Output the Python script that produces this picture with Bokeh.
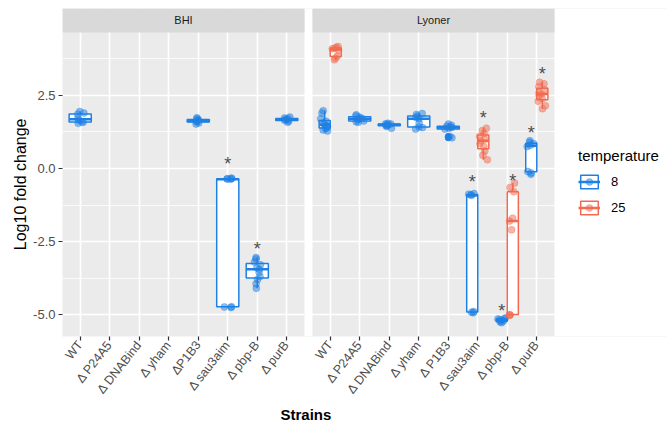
import math
import numpy as np
from bokeh.plotting import figure
from bokeh.models import (ColumnDataSource, FixedTicker, Range1d, Legend, LegendItem, Title)
from bokeh.transform import jitter
from bokeh.core.properties import value
from bokeh.embed import file_html
from bokeh.resources import INLINE

# ---------------- data ----------------
media = ["BHI", "Lyoner"]
strains = ["WT", "P24A5", "DNABind", "yham", "P1B3", "sau3aim", "pbp-B", "purB"]
bhi_tick_labels = ["WT", "Δ P24A5", "Δ DNABind", "Δ yham", "ΔP1B3", "Δ sau3aim", "Δ pbp-B", "Δ purB"]
lyoner_tick_labels = ["WT", "Δ P24A5", "Δ DNABind", "Δ yham", "Δ P1B3", "Δ sau3aim", "Δ pbp-B", "Δ purB"]
temperatures = ["8", "25"]
y_ticks = [-5.0, -2.5, 0.0, 2.5]
y_tick_labels = ["-5.0", "-2.5", "0.0", "2.5"]
y_minor = [-3.75, -1.25, 1.25, 3.75]

# BHI (8 °C only)
bhi_wt_8 = [1.55, 1.58, 1.60, 1.65, 1.72, 1.86, 1.90, 1.95]
bhi_p1b3_8 = [1.52, 1.56, 1.60, 1.62, 1.64, 1.67, 1.70, 1.74]
bhi_sau3aim_8 = [-4.76, -4.74, -4.73, -0.37, -0.36, -0.35, -0.34, -0.33]
bhi_pbpb_8 = [-4.10, -3.95, -3.80, -3.70, -3.55, -3.45, -3.40, -3.30, -3.20, -3.10, -3.05]
bhi_purb_8 = [1.58, 1.62, 1.65, 1.67, 1.69, 1.71, 1.73, 1.76]

# Lyoner
ly_wt_8 = [1.28, 1.32, 1.36, 1.40, 1.44, 1.48, 1.52, 1.56, 1.62, 1.70, 1.90, 1.98]
ly_wt_25 = [3.72, 3.78, 3.85, 4.05, 4.10, 4.12, 4.15, 4.18]
ly_p24a5_8 = [1.58, 1.60, 1.63, 1.68, 1.72, 1.76, 1.80, 1.84]
ly_dnabind_8 = [1.38, 1.44, 1.47, 1.49, 1.50, 1.52, 1.53, 1.55]
ly_yham_8 = [1.35, 1.40, 1.42, 1.55, 1.70, 1.75, 1.80, 1.85, 1.88]
ly_p1b3_8 = [1.05, 1.10, 1.35, 1.38, 1.40, 1.42, 1.45, 1.48, 1.52]
ly_sau3aim_8 = [-4.94, -4.92, -4.90, -0.92, -0.90, -0.88, -0.86]
ly_sau3aim_25 = [0.30, 0.45, 0.60, 0.75, 0.85, 0.95, 1.00, 1.10, 1.20, 1.30, 1.38]
ly_pbpb_8 = [-5.28, -5.25, -5.22, -5.20, -5.18, -5.15, -5.15, -5.12]
ly_pbpb_25 = [-5.03, -5.02, -5.00, -2.10, -1.80, -1.70, -0.80, -0.65, -0.50]
ly_purb_8 = [-0.20, -0.15, -0.10, 0.75, 0.80, 0.85, 0.90, 0.95]
ly_purb_25 = [2.05, 2.15, 2.30, 2.40, 2.50, 2.55, 2.60, 2.70, 2.80, 2.90, 2.95]

groups = [
    ("BHI", "WT", "8", bhi_wt_8),
    ("BHI", "P1B3", "8", bhi_p1b3_8),
    ("BHI", "sau3aim", "8", bhi_sau3aim_8),
    ("BHI", "pbp-B", "8", bhi_pbpb_8),
    ("BHI", "purB", "8", bhi_purb_8),
    ("Lyoner", "WT", "8", ly_wt_8),
    ("Lyoner", "WT", "25", ly_wt_25),
    ("Lyoner", "P24A5", "8", ly_p24a5_8),
    ("Lyoner", "DNABind", "8", ly_dnabind_8),
    ("Lyoner", "yham", "8", ly_yham_8),
    ("Lyoner", "P1B3", "8", ly_p1b3_8),
    ("Lyoner", "sau3aim", "8", ly_sau3aim_8),
    ("Lyoner", "sau3aim", "25", ly_sau3aim_25),
    ("Lyoner", "pbp-B", "8", ly_pbpb_8),
    ("Lyoner", "pbp-B", "25", ly_pbpb_25),
    ("Lyoner", "purB", "8", ly_purb_8),
    ("Lyoner", "purB", "25", ly_purb_25),
]

# significance asterisks (medium, strain, temperature, y)
star_medium = ["BHI", "BHI", "Lyoner", "Lyoner", "Lyoner", "Lyoner", "Lyoner", "Lyoner"]
star_strain = ["sau3aim", "pbp-B", "sau3aim", "sau3aim", "pbp-B", "pbp-B", "purB", "purB"]
star_temp = ["8", "8", "8", "25", "8", "25", "8", "25"]
star_y = [0.31, -2.57, -0.30, 1.90, -4.70, -0.24, 1.37, 3.42]

# ---------------- style ----------------
COLORS = {"8": "#1F80E3", "25": "#F26B50"}
PANEL_BG = "#EBEBEB"
STRIP_BG = "#D9D9D9"
FONT = "Liberation Sans"

FIG_W, FIG_H = 666, 422
LEFT, TOP, BOTTOM = 62, 8, 86
FRAME_W = FIG_W - LEFT          # frame runs to the right edge; legend sits inside it
PANELS_W = 492                  # width of the two facets incl. gap
PANEL_LO, PANEL_HI = 0.4, 8.6
GAP_PX = 8
scale = (PANELS_W - GAP_PX) / (2 * (PANEL_HI - PANEL_LO))
OFFSET = round(PANEL_HI - PANEL_LO + GAP_PX / scale, 4)
offsets = {"BHI": 0.0, "Lyoner": OFFSET}
X_END = PANEL_LO + FRAME_W / scale

Y_BOTTOM = -5.753
PANEL_TOP = 4.658
Y_TOP = 5.479

def xpos(medium, strain):
    return offsets[medium] + strains.index(strain) + 1

present = {}
for m, s, t, v in groups:
    present.setdefault((m, s), []).append(t)

def dodge(medium, strain, temp):
    temps = present[(medium, strain)]
    if len(temps) == 1:
        return 0.0, 0.75
    return (-0.1875 if temp == "8" else 0.1875), 0.375

# ---------------- build tables (one per temperature) ----------------
BOX_KEYS = ["x", "q1", "q2", "q3", "lo", "hi", "x0", "x1"]
box = {t: {k: [] for k in BOX_KEYS} for t in temperatures}
pts = {t: {"x": [], "y": []} for t in temperatures}
outl = {t: {"x": [], "y": []} for t in temperatures}
for m, s, t, v in groups:
    arr = np.array(v, dtype=float)
    q1, q2, q3 = np.percentile(arr, [25, 50, 75])
    iqr = q3 - q1
    inside = arr[(arr >= q1 - 1.5 * iqr) & (arr <= q3 + 1.5 * iqr)]
    lo, hi = inside.min(), inside.max()
    off, w = dodge(m, s, t)
    x = xpos(m, s) + off
    for k, val in zip(BOX_KEYS, [x, q1, q2, q3, lo, hi, x - w / 2, x + w / 2]):
        box[t][k].append(val)
    for val in arr:
        if val < q1 - 1.5 * iqr or val > q3 + 1.5 * iqr:
            outl[t]["x"].append(x); outl[t]["y"].append(val)
        pts[t]["x"].append(x); pts[t]["y"].append(val)

p = figure(width=FIG_W, height=FIG_H, output_backend="svg", toolbar_location=None,
           x_range=Range1d(PANEL_LO, X_END), y_range=Range1d(Y_BOTTOM, Y_TOP),
           min_border_left=LEFT, min_border_right=0, min_border_top=TOP,
           min_border_bottom=BOTTOM,
           background_fill_color=PANEL_BG, border_fill_color="white", outline_line_color=None)

# grid
tick_positions = [xpos(m, s) for m in media for s in strains]
p.xaxis.ticker = FixedTicker(ticks=tick_positions)
p.xgrid.ticker = FixedTicker(ticks=tick_positions)
p.yaxis.ticker = FixedTicker(ticks=y_ticks, minor_ticks=y_minor)
p.ygrid.ticker = FixedTicker(ticks=y_ticks, minor_ticks=y_minor)
for g in (p.xgrid, p.ygrid):
    g.grid_line_color = "white"
    g.grid_line_width = 1.6
p.ygrid.minor_grid_line_color = "white"
p.ygrid.minor_grid_line_width = 0.8

# axes
labels = {}
for m, lbls in zip(media, [bhi_tick_labels, lyoner_tick_labels]):
    for s, l in zip(strains, lbls):
        labels[xpos(m, s)] = l
p.xaxis.major_label_overrides = labels
p.yaxis.major_label_overrides = {yt: yl for yt, yl in zip(y_ticks, y_tick_labels)}
for ax in (p.xaxis[0], p.yaxis[0]):
    ax.axis_line_color = None
    ax.major_tick_line_color = "#333333"
    ax.major_tick_line_width = 1.2
    ax.major_tick_out = 4
    ax.major_tick_in = 0
    ax.minor_tick_line_color = None
    ax.major_label_text_color = "#4D4D4D"
    ax.major_label_text_font = FONT
    ax.major_label_text_font_size = "13px"
    ax.major_label_standoff = 3
p.xaxis.major_label_orientation = 0.9
p.xaxis.major_label_text_font_size = "12.5px"
p.xaxis.major_label_standoff = 2

# axis titles as side titles (positioned like ggplot's)
p.add_layout(Title(text="Strains", align="left", offset=218, standoff=0,
                   text_font=FONT, text_font_size="15px", text_font_style="bold",
                   text_color="black"), "below")
p.add_layout(Title(text="Log10 fold change", align="right", offset=110, standoff=4,
                   text_font=FONT, text_font_size="16px", text_font_style="normal",
                   text_color="black"), "left")

# gap between facets, area right of the facets, and strips
p.quad(left=[PANEL_HI, OFFSET + PANEL_HI], right=[OFFSET + PANEL_LO, X_END],
       bottom=[Y_BOTTOM] * 2, top=[Y_TOP] * 2, fill_color="white", line_color=None)
p.quad(left=[offsets[m] + PANEL_LO for m in media], right=[offsets[m] + PANEL_HI for m in media],
       bottom=[PANEL_TOP] * 2, top=[Y_TOP] * 2, fill_color=STRIP_BG, line_color=None)
p.text(x=[offsets[m] + (PANEL_LO + PANEL_HI) / 2 for m in media],
       y=[(PANEL_TOP + Y_TOP) / 2] * 2, text=media, text_align="center",
       text_baseline="middle", text_font=value(FONT), text_font_size="11px",
       text_color="#1A1A1A")

# boxplots + jittered points, per temperature
items = []
for t in temperatures:
    c = COLORS[t]
    src = ColumnDataSource(box[t])
    p.segment(x0="x", x1="x", y0="q3", y1="hi", line_color=c, line_width=1.5, source=src)
    p.segment(x0="x", x1="x", y0="q1", y1="lo", line_color=c, line_width=1.5, source=src)
    b = p.quad(left="x0", right="x1", bottom="q1", top="q3", fill_color="white",
               line_color=c, line_width=1.5, source=src)
    md = p.segment(x0="x0", x1="x1", y0="q2", y1="q2", line_color=c, line_width=2.5, source=src)
    p.scatter(x="x", y="y", color=c, size=6, source=ColumnDataSource(outl[t]))
    items.append((t, b, md))
pt_renderers = {}
for t in temperatures:
    c = COLORS[t]
    pt_renderers[t] = p.scatter(x=jitter("x", width=0.28, distribution="uniform"), y="y",
                                fill_color=c, fill_alpha=0.5, line_color=c, line_alpha=0.3,
                                size=7, source=ColumnDataSource(pts[t]))

# asterisks
sx = []
for m, s, t in zip(star_medium, star_strain, star_temp):
    off, w = dodge(m, s, t)
    sx.append(xpos(m, s) + off)
p.text(x=sx, y=star_y, text=["*"] * len(sx), text_align="center", text_baseline="middle",
       y_offset=5, text_font=value(FONT), text_font_size="18px", text_color="#4D4D4D")

# legend (inside the frame, to the right of the facets)
legend_items = [LegendItem(label=t, renderers=[b, md, pt_renderers[t]]) for t, b, md in items]
legend = Legend(items=legend_items, location=(516, 120), title="temperature",
                title_text_font=FONT, title_text_font_size="15px", title_text_font_style="normal",
                title_text_color="black", title_standoff=9,
                label_text_font=FONT, label_text_font_size="13px", label_text_color="black",
                glyph_width=22, glyph_height=17, label_standoff=11, spacing=9,
                padding=6, margin=0, border_line_color=None,
                background_fill_color="white", background_fill_alpha=1)
p.add_layout(legend, "center")

open("out.html", "w").write(file_html(p, INLINE))
